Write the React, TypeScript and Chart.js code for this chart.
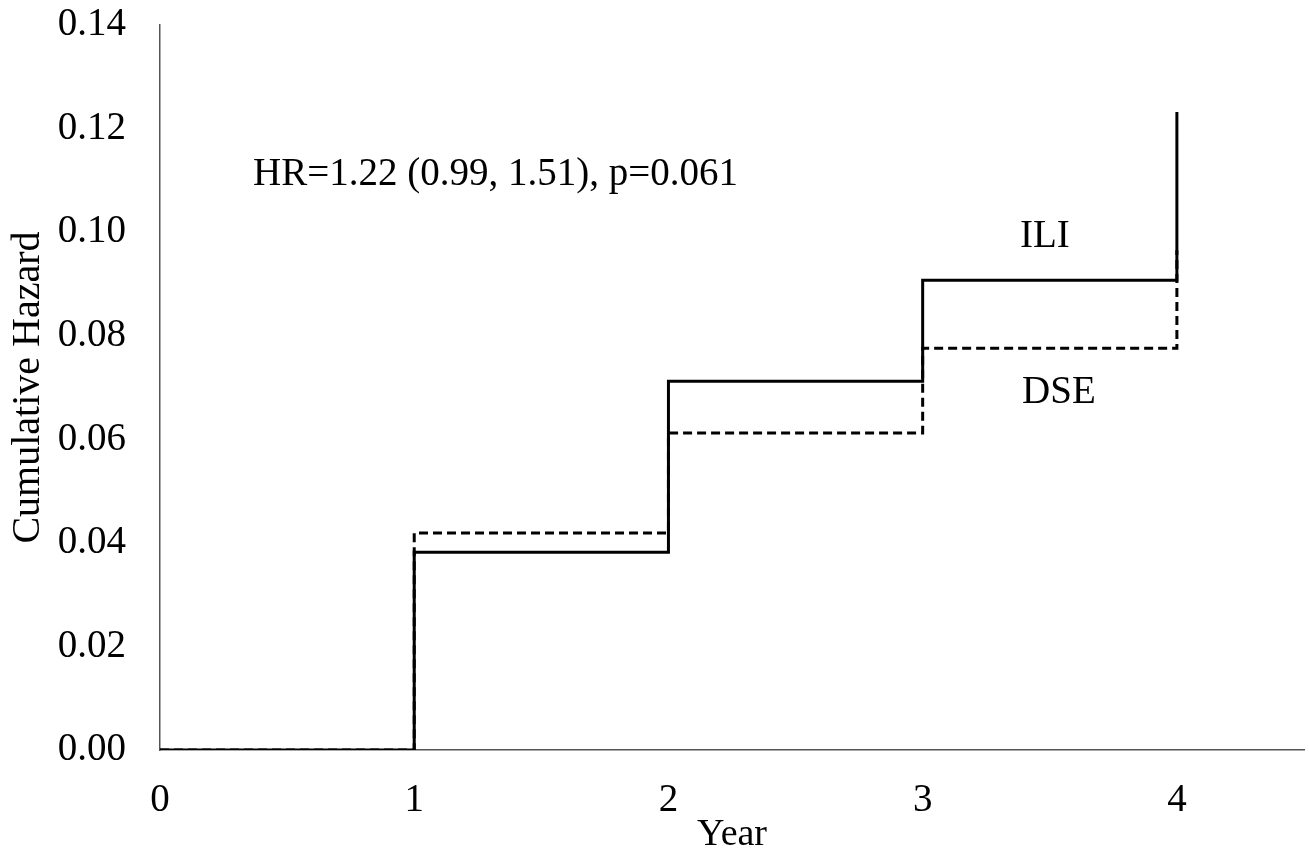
import React, { useEffect, useRef } from "react";
import { Chart, registerables } from "chart.js";

Chart.register(...registerables);

const years = [0, 1, 2, 3, 4];
const iliHazard = [0, 0.0382, 0.0712, 0.0907, 0.1232];
const dseHazard = [0, 0.0419, 0.0612, 0.0776, 0.0965];
const yTicks = [0, 0.02, 0.04, 0.06, 0.08, 0.1, 0.12, 0.14];
const xTicks = [0, 1, 2, 3, 4];

const hrText = "HR=1.22 (0.99, 1.51), p=0.061";
const labels = [
  { text: hrText, x: 0.366, y: 0.1091, align: "left" as CanvasTextAlign },
  { text: "ILI", x: 3.481, y: 0.0971, align: "center" as CanvasTextAlign },
  { text: "DSE", x: 3.536, y: 0.067, align: "center" as CanvasTextAlign },
];

const FONT = "'Liberation Serif', 'Times New Roman', serif";

const textPlugin = {
  id: "textLabels",
  afterDatasetsDraw(chart: any) {
    const { ctx, scales } = chart;
    ctx.save();
    ctx.fillStyle = "#000";
    ctx.font = `39px ${FONT}`;
    ctx.textBaseline = "alphabetic";
    for (const l of labels) {
      ctx.textAlign = l.align;
      ctx.fillText(l.text, scales.x.getPixelForValue(l.x), scales.y.getPixelForValue(l.y));
    }
    ctx.restore();
  },
};

export default function App() {
  const ref = useRef<HTMLCanvasElement>(null);
  useEffect(() => {
    if (!ref.current) return;
    const chart = new Chart(ref.current, {
      type: "line",
      data: {
        datasets: [
          {
            label: "ILI",
            data: years.map((x, i) => ({ x, y: iliHazard[i] })),
            borderColor: "#000",
            borderWidth: 3,
            stepped: "before",
            pointRadius: 0,
            fill: false,
          },
          {
            label: "DSE",
            data: years.map((x, i) => ({ x, y: dseHazard[i] })),
            borderColor: "#000",
            borderWidth: 3,
            borderDash: [9, 5],
            stepped: "before",
            pointRadius: 0,
            fill: false,
          },
        ],
      },
      options: {
        responsive: false,
        animation: false,
        devicePixelRatio: 1,
        layout: { padding: { top: 25, right: 5, left: 0, bottom: 0 } },
        plugins: { legend: { display: false }, tooltip: { enabled: false } },
        scales: {
          x: {
            type: "linear",
            min: 0,
            max: 4.5,
            afterBuildTicks: (s: any) => {
              s.ticks = xTicks.map((v) => ({ value: v }));
            },
            afterFit: (s: any) => {
              s.height = 104;
              s.paddingLeft = 0;
              s.paddingRight = 0;
            },
            grid: { display: false, drawTicks: false },
            border: { display: true, color: "#555", width: 1.5 },
            ticks: {
              padding: 27,
              color: "#000",
              font: { family: FONT, size: 39 },
              callback: (v: any) => String(v),
            },
            title: {
              display: true,
              text: "Year",
              color: "#000",
              font: { family: FONT, size: 38 },
              padding: { top: 0, bottom: -4 },
            },
          },
          y: {
            type: "linear",
            min: 0,
            max: 0.14,
            afterBuildTicks: (s: any) => {
              s.ticks = yTicks.map((v) => ({ value: v }));
            },
            afterFit: (s: any) => {
              s.width = 160;
              s.paddingTop = 0;
              s.paddingBottom = 0;
            },
            grid: { display: false, drawTicks: false },
            border: { display: true, color: "#555", width: 1.5 },
            ticks: {
              padding: 34,
              color: "#000",
              font: { family: FONT, size: 39 },
              callback: (v: any) => Number(v).toFixed(2),
            },
            title: {
              display: true,
              text: "Cumulative Hazard",
              color: "#000",
              font: { family: FONT, size: 40 },
              padding: { top: 4, bottom: 0 },
            },
          },
        },
      },
      plugins: [textPlugin],
    });
    return () => chart.destroy();
  }, []);
  return (
    <div style={{ position: "absolute", left: 0, top: 0, width: 1309, height: 854, background: "#fff" }}>
      <canvas ref={ref} width={1309} height={854} />
    </div>
  );
}
